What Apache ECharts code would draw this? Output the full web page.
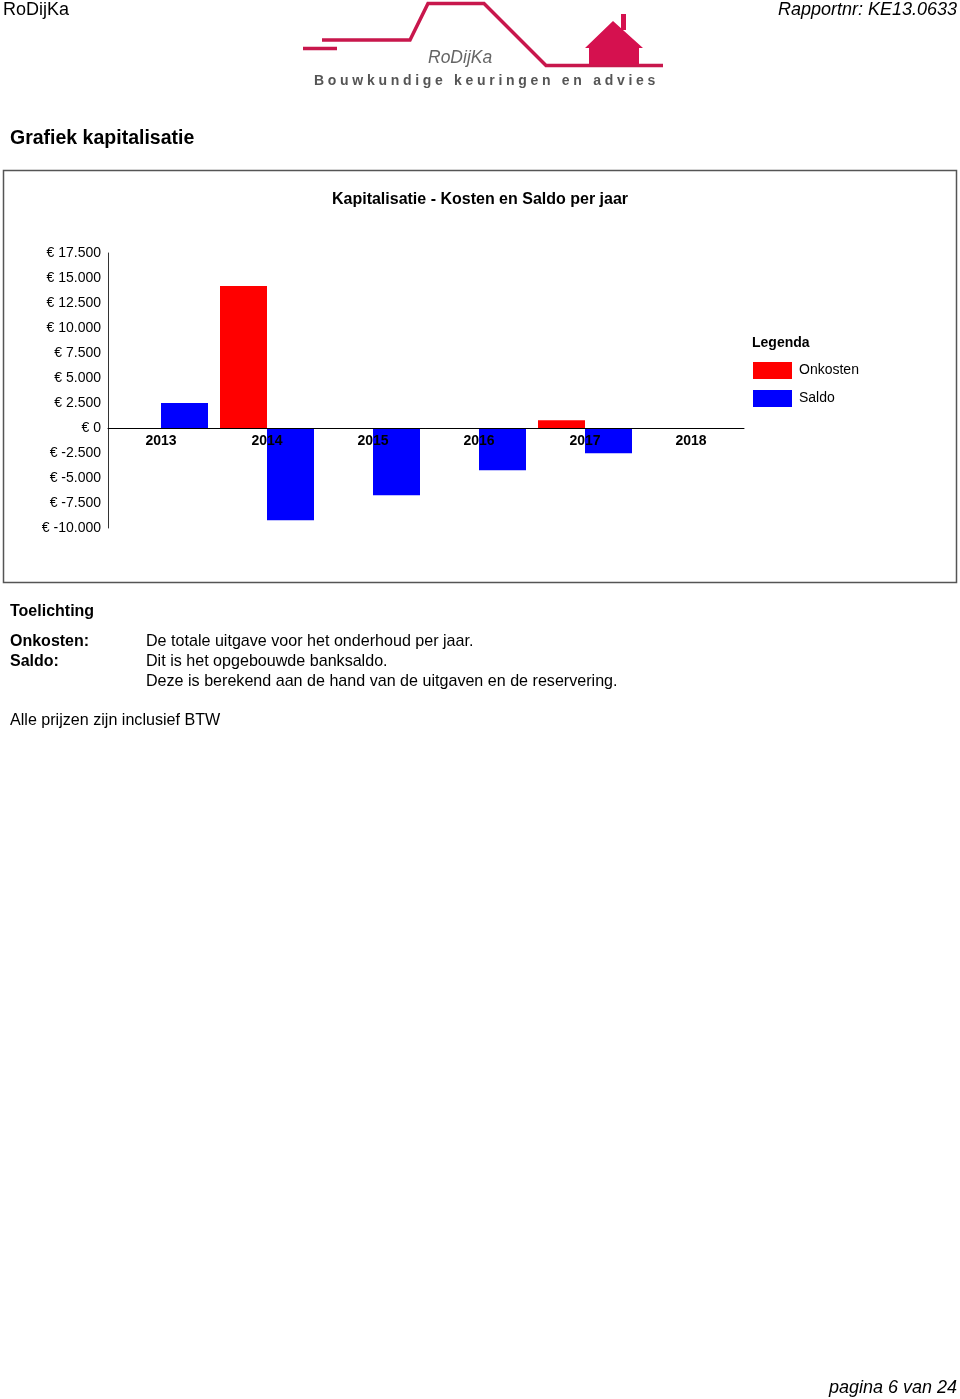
<!DOCTYPE html>
<html>
<head>
<meta charset="utf-8">
<script src="https://cdn.jsdelivr.net/npm/echarts@6/dist/echarts.min.js"></script>
<style>
  html, body { margin: 0; padding: 0; background: #fff; }
  #chart { position: absolute; left: 0; top: 0; width: 960px; height: 1399px; }
  #tagline { position: absolute; left: 314px; top: 72px; font: bold 14px "Liberation Sans", Arial, sans-serif; color: #555; letter-spacing: 3.7px; white-space: nowrap; }
</style>
</head>
<body>
<div id="chart"></div>
<div id="tagline">Bouwkundige keuringen en advies</div>
<script>
// ---- data ----
const years = ['2013', '2014', '2015', '2016', '2017', '2018'];
const onkosten = [0, 14200, 0, 0, 770, 0];
const saldo = [2500, -9230, -6730, -4230, -2530, 0];
const seriesNames = ['Onkosten', 'Saldo'];
const yMin = -10000, yMax = 17500, yStep = 2500;

const FONT = '"Liberation Sans", Arial, Helvetica, sans-serif';
const LOGO = '#c8174c';

function euro(v) {
  const s = Math.abs(v).toString().replace(/\B(?=(\d{3})+(?!\d))/g, '.');
  return '€ ' + (v < 0 ? '-' : '') + s;
}

function txt(text, x, y, opts) {
  opts = opts || {};
  return {
    type: 'text', x: x, y: y, z: 100,
    style: {
      text: text,
      fill: opts.fill || '#000',
      font: (opts.style || 'normal') + ' ' + (opts.weight || 'normal') + ' ' + (opts.size || 16) + 'px ' + FONT,
      textAlign: opts.align || 'left',
      textVerticalAlign: 'middle',
      verticalAlign: 'middle'
    }
  };
}

const chart = echarts.init(document.getElementById('chart'), null, { renderer: 'canvas' });

// grid geometry
const gridTop = 253, gridHeight = 275;
const zeroOffset = gridHeight * (0 - yMin) / (yMax - yMin); // distance from bottom to zero line

const graphics = [
  // header
  txt('RoDijKa', 3, 10, { size: 18 }),
  txt('Rapportnr: KE13.0633', 957, 10, { size: 18, style: 'italic', align: 'right' }),
  // logo lines
  { type: 'polyline', z: 50, shape: { points: [[303, 48.5], [337, 48.5]] }, style: { stroke: LOGO, lineWidth: 3.5, fill: null } },
  { type: 'polyline', z: 50, shape: { points: [[322, 40], [410, 40], [428, 3.5], [484, 3.5], [546, 65.5], [663, 65.5]] }, style: { stroke: LOGO, lineWidth: 3.5, fill: null, lineJoin: 'miter' } },
  { type: 'polygon', z: 50, shape: { points: [[585, 48], [613, 21], [643, 48], [639, 48], [639, 65], [589, 65], [589, 48]] }, style: { fill: '#d5114f' } },
  { type: 'rect', z: 50, shape: { x: 621, y: 14, width: 5, height: 16 }, style: { fill: '#d5114f' } },
  txt('RoDijKa', 428, 58.5, { size: 17.5, style: 'italic', fill: '#666' }),
  // section title
  txt('Grafiek kapitalisatie', 10, 138.5, { size: 19.5, weight: 'bold' }),
  // frame
  { type: 'rect', z: 1, shape: { x: 3.5, y: 170.5, width: 953, height: 412 }, style: { fill: null, stroke: '#555', lineWidth: 1.5 } },
  txt('Kapitalisatie - Kosten en Saldo per jaar', 480, 200, { size: 16, weight: 'bold', align: 'center' }),
  txt('Legenda', 752, 343, { size: 14, weight: 'bold' }),
  // explanation
  txt('Toelichting', 10, 612, { size: 16, weight: 'bold' }),
  txt('Onkosten:', 10, 642, { size: 16, weight: 'bold' }),
  txt('Saldo:', 10, 662, { size: 16, weight: 'bold' }),
  txt('De totale uitgave voor het onderhoud per jaar.', 146, 642, { size: 16.1 }),
  txt('Dit is het opgebouwde banksaldo.', 146, 662, { size: 16.1 }),
  txt('Deze is berekend aan de hand van de uitgaven en de reservering.', 146, 682, { size: 16.1 }),
  txt('Alle prijzen zijn inclusief BTW', 10, 721, { size: 16.1 }),
  // footer
  txt('pagina 6 van 24', 957, 1388, { size: 18, style: 'italic', align: 'right' })
];

chart.setOption({
  animation: false,
  textStyle: { fontFamily: FONT },
  graphic: { elements: graphics },
  legend: {
    orient: 'vertical',
    left: 753, top: 362, padding: 0,
    itemWidth: 39, itemHeight: 17, itemGap: 11,
    icon: 'rect',
    data: seriesNames,
    textStyle: { fontSize: 14, color: '#000', fontFamily: FONT, padding: [4, 0, 0, 2] }
  },
  grid: { left: 108, top: gridTop, width: 636, height: gridHeight, containLabel: false, outerBoundsMode: 'none' },
  xAxis: {
    type: 'category',
    data: years,
    position: 'bottom',
    offset: -zeroOffset,
    z: 10,
    axisLine: { onZero: false, lineStyle: { color: '#000', width: 1 } },
    axisTick: { show: false },
    axisLabel: { color: '#000', fontSize: 14, fontWeight: 'bold', margin: 6, fontFamily: FONT, interval: 0 },
    splitLine: { show: false }
  },
  yAxis: {
    type: 'value',
    min: yMin, max: yMax, interval: yStep,
    axisLine: { show: true, lineStyle: { color: '#333', width: 1 } },
    axisTick: { show: false },
    splitLine: { show: false },
    axisLabel: { color: '#000', fontSize: 14, margin: 7, fontFamily: FONT, formatter: euro, padding: [2, 0, 0, 0] }
  },
  series: [
    { name: seriesNames[0], type: 'bar', data: onkosten, barWidth: 47, barGap: '0%', itemStyle: { color: '#ff0000' } },
    { name: seriesNames[1], type: 'bar', data: saldo, barWidth: 47, barGap: '0%', itemStyle: { color: '#0000ff' } }
  ]
});
</script>
</body>
</html>
